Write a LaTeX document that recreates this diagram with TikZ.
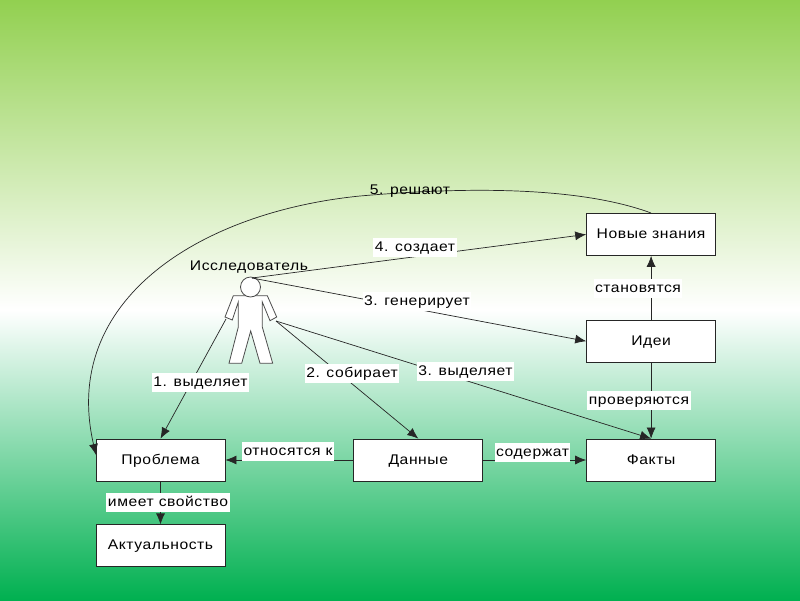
\documentclass[tikz,border=0pt]{standalone}
\usepackage{fontspec}
\setmainfont{Liberation Sans}[FakeStretch=1.12,LetterSpace=4]
\usetikzlibrary{positioning,arrows.meta}

\definecolor{topgreen}{RGB}{146,208,80}
\definecolor{botgreen}{RGB}{0,176,80}

\begin{document}
\begin{tikzpicture}[x=1pt,y=-1pt,
    concept/.style={draw=black!85,fill=white,line width=0.8pt,minimum width=129pt,minimum height=42pt,inner sep=0pt,text height=11pt,text depth=3pt,font=\fontsize{14}{16}\selectfont},
    link/.style={black!85,line width=0.7pt,-{Latex[length=11pt,width=9pt]}},
    linklabel/.style={fill=white,inner sep=1.5pt,text height=12pt,text depth=4pt,font=\fontsize{14}{16}\selectfont},
    actor/.style={draw=black!70,fill=white,line width=0.8pt},
  ]
    \useasboundingbox (0,0) rectangle (800,600);
    % background
    \fill[top color=topgreen,bottom color=white] (0,0) rectangle (800,310);
    \fill[top color=white,bottom color=botgreen] (0,310) rectangle (800,600);

    % concepts
    \node[concept] (problem) at (160.5,460) {Проблема};
    \node[concept,below=43pt of problem] (actual) {Актуальность};
    \node[concept,right=128pt of problem] (data) {Данные};
    \node[concept,right=103pt of data] (facts) {Факты};
    \node[concept,above=76pt of facts] (ideas) {Идеи};
    \node[concept,above=64pt of ideas] (knowledge) {Новые знания};

    % researcher
    \draw[actor] (233.3,295.7) -- (225,317) -- (232.3,320) -- (238.3,302) -- (238.3,327) -- (229,363.3) -- (241.7,363.3)
        -- (250.7,331) -- (260,363.3) -- (272.7,363.3) -- (262.3,327) -- (262.3,302) -- (270,320.7) -- (276.7,317)
        -- (267.3,295.7) -- cycle;
    \node[actor,circle,minimum size=20pt,inner sep=0pt] (head) at (250.5,287) {};
    \node[font=\fontsize{14}{16}\selectfont,inner sep=0pt] (researcher) at (249,267) {Исследователь};
    \coordinate (headtop) at (252,278);
    \coordinate (lefthand) at (226,319);
    \coordinate (righthand) at (276,321);
    \coordinate (bend) at (360,196);
    \coordinate (problemside) at (96,455);

    % connectors
    \draw[link] (knowledge.north) .. controls (570,183) and (440,189) .. (bend)
        .. controls (200,212) and (60,300) .. (problemside);
    \draw[link] (headtop) -- (knowledge.west);
    \draw[link] (headtop) -- (ideas.west);
    \draw[link] (lefthand) -- (problem.north);
    \draw[link] (righthand) -- (data.north);
    \draw[link] (righthand) -- (facts.north);
    \draw[link] (data.west) -- (problem.east);
    \draw[link] (data.east) -- (facts.west);
    \draw[link] (problem.south) -- (actual.north);
    \draw[link] (ideas.north) -- (knowledge.south);
    \draw[link] (ideas.south) -- (facts.north);

    % labels
    \node[font=\fontsize{14}{16}\selectfont,inner sep=0pt] (solve) at (410,191) {5. решают};
    \node[linklabel] (creates) at (415,247) {4. создает};
    \node[linklabel] (generates) at (417,301) {3. генерирует};
    \node[linklabel] (selects) at (200.5,382) {1. выделяет};
    \node[linklabel] (collects) at (352,373) {2. собирает};
    \node[linklabel] (selects2) at (465.5,371) {3. выделяет};
    \node[linklabel] (become) at (638,288) {становятся};
    \node[linklabel] (verify) at (639,400) {проверяются};
    \node[linklabel] (relate) at (288,451) {относятся к};
    \node[linklabel] (contain) at (532.5,452) {содержат};
    \node[linklabel] (hasprop) at (168,502) {имеет свойство};
\end{tikzpicture}
\end{document}
